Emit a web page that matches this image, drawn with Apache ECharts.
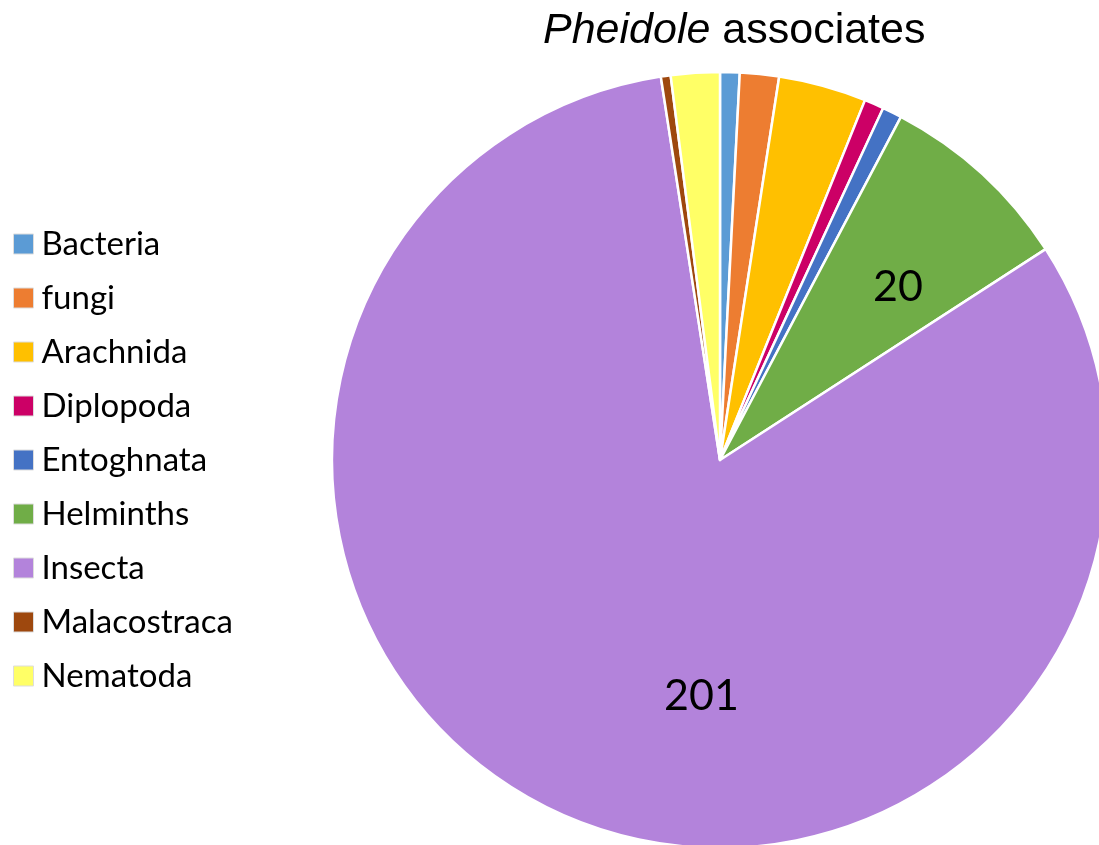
<!DOCTYPE html>
<html><head><meta charset="utf-8">
<script src="https://cdn.jsdelivr.net/npm/echarts@6/dist/echarts.min.js"></script>
<style>html,body{margin:0;padding:0;background:#fff}#c{width:1099px;height:845px}</style>
</head><body><div id="c"></div>
<script>
const categories = ['Bacteria','fungi','Arachnida','Diplopoda','Entoghnata','Helminths','Insecta','Malacostraca','Nematoda'];
const values = [2, 4, 9, 2, 2, 20, 201, 1, 5];
const colors = ['#5B9BD5','#ED7D31','#FFC000','#CC0066','#4472C4','#70AD47','#B383DB','#9E480E','#FFFF66'];
const shownLabels = ['Helminths','Insecta'];
const labelShift = {Helminths:[45,-27], Insecta:[62,56]};

const chart = echarts.init(document.getElementById('c'));
chart.setOption({
  animation:false,
  title:{
    text:'{i|Pheidole} associates',
    left:538, top:5,
    textStyle:{fontFamily:'Liberation Sans',fontSize:43,fontWeight:'normal',color:'#000',
      rich:{i:{fontFamily:'Liberation Sans',fontSize:43,fontStyle:'italic',color:'#000'}}}
  },
  legend:{
    orient:'vertical', left:8, top:222,
    icon:'rect', itemWidth:20, itemHeight:20, itemGap:20,
    data:categories,
    textStyle:{fontFamily:'Lato',fontSize:33,color:'#000',lineHeight:34,padding:[0,0,0,3]},
    itemStyle:{borderColor:'#ddd',borderWidth:1}
  },
  series:[{
    type:'pie',
    center:[720,460], radius:388,
    startAngle:90, clockwise:true,
    data:categories.map((n,i)=>({name:n,value:values[i],itemStyle:{color:colors[i]},
      label:{show:shownLabels.includes(n)}})),
    itemStyle:{borderColor:'#fff',borderWidth:2.5},
    label:{position:'inside',formatter:'{c}',fontFamily:'Lato',fontSize:43,color:'#000'},
    labelLine:{show:false},
    labelLayout:function(p){const s=labelShift[categories[p.dataIndex]];return s?{dx:s[0],dy:s[1]}:{};},
    emphasis:{disabled:true}
  }]
});
</script></body></html>
